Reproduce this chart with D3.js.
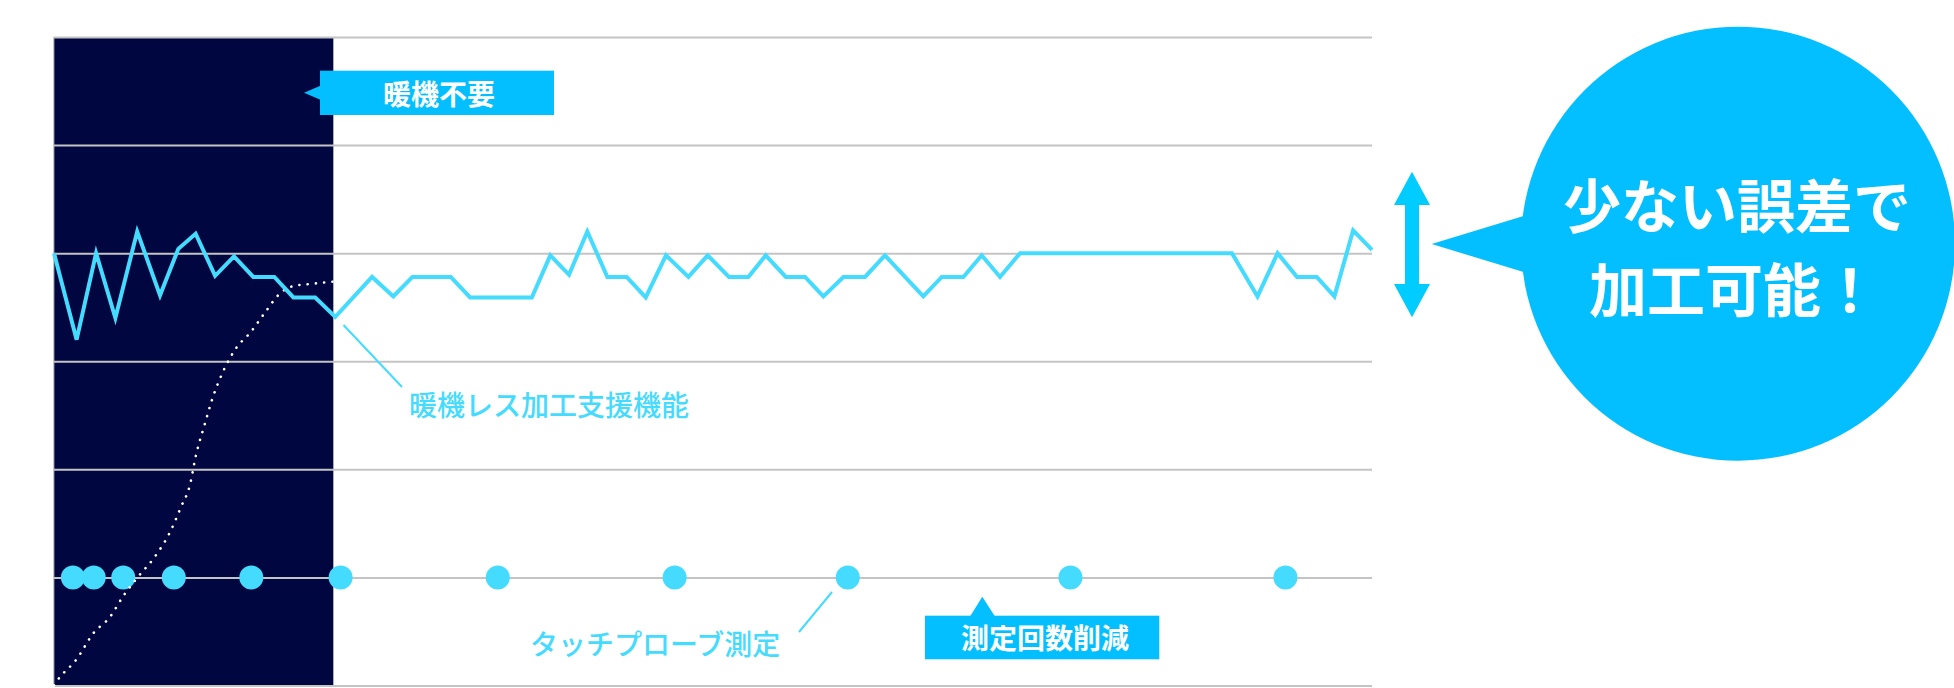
<!DOCTYPE html>
<html><head><meta charset="utf-8">
<script src="https://cdn.jsdelivr.net/npm/d3@7"></script>
<style>html,body{margin:0;padding:0;background:#fff}svg{display:block}</style>
</head><body>
<svg id="chart" width="1954" height="688"></svg>
<script>
// ---- data (time units, value units) ----
const gridTicks = [0, 5, 10, 15, 20, 25, 30];
const warmupEnd = 14.2;

const lineTime = [0, 1.15, 2.14, 3.12, 4.23, 5.39, 6.32, 7.2, 8.19, 9.15, 10.13, 11.2, 12.17, 13.28, 14.3,
  16.17, 17.25, 18.22, 20.17, 21.15, 24.29, 25.23, 26.18, 27.11, 28.13, 29.11, 30.08, 31.11, 32.25,
  33.23, 34.31, 35.3, 36.18, 37.2, 38.18, 39.11, 40.13, 41.23, 42.24, 44.19, 45.13, 46.23, 47.16,
  48.09, 49.11, 59.88, 61.18, 62.2, 63.19, 64.19, 65.09, 66.04, 67.0];
const lineValue = [20, 16, 20, 17, 21, 18.05, 20.2, 20.9, 18.95, 19.85, 18.9, 18.9, 17.95, 17.95, 17.05,
  18.9, 18, 18.9, 18.9, 17.95, 17.95, 19.9, 19, 21, 18.9, 18.9, 17.95, 19.9, 18.9,
  19.9, 18.9, 18.9, 19.9, 18.9, 18.9, 18, 18.9, 18.9, 19.9, 18, 18.9, 18.9, 19.9,
  18.9, 20, 20, 18, 20, 18.9, 18.9, 18, 21.05, 20.15];

const warmTime = [0, 0.09, 1.16, 2.02, 2.8, 3.56, 4.27, 5.08, 5.95, 6.46, 6.9, 7.22, 7.68, 8.03, 8.59,
  9.22, 10.0, 10.73, 11.49, 12.17, 12.98, 14.17];
const warmValue = [0, 0.13, 1.23, 2.44, 3.12, 4.19, 5.03, 5.9, 7.19, 8.27, 9.24, 10.66, 12.14, 13.21, 14.51,
  15.56, 16.35, 17.26, 18.14, 18.48, 18.57, 18.68];

const probeTime = [0.96, 2.02, 3.52, 6.09, 10.03, 14.57, 22.56, 31.55, 40.35, 51.67, 62.6];
const probeValue = 5;

// ---- setup ----
const svg = d3.select('#chart');
const FONT = '"Noto Sans CJK JP", "Noto Sans", sans-serif';
const x = d3.scaleLinear().domain([0, 67]).range([54, 1372]);
const y = d3.scaleLinear().domain([0, 30]).range([685.5, 37]);

const NAVY = '#00063f', LINE = '#44dbff', BLUE = '#04bfff', ARROW = '#00ccff', GRID = '#c4c4c4';

// warm-up zone
svg.append('rect')
  .attr('x', x(0)).attr('y', y(30))
  .attr('width', x(warmupEnd) - x(0)).attr('height', y(0) - y(30))
  .attr('fill', NAVY);
svg.append('line')
  .attr('x1', x(0)).attr('x2', x(0)).attr('y1', y(30)).attr('y2', y(0))
  .attr('stroke', '#8a8a9a').attr('stroke-width', 1);

// gridlines via axis
const yAxis = d3.axisLeft(y).tickValues(gridTicks).tickSize(-(x(67) - x(0))).tickFormat('');
const gAxis = svg.append('g').attr('transform', `translate(${x(0)},0)`).call(yAxis);
gAxis.select('.domain').remove();
gAxis.selectAll('.tick line').attr('stroke', GRID).attr('stroke-width', 2);

// probe dots
svg.append('g').selectAll('circle').data(probeTime).join('circle')
  .attr('cx', d => x(d)).attr('cy', y(probeValue)).attr('r', 12)
  .attr('fill', LINE);

// dotted warm-up curve
const warmData = warmTime.map((t, i) => [t, warmValue[i]]);
svg.append('path')
  .datum(warmData)
  .attr('d', d3.line().x(d => x(d[0])).y(d => y(d[1])).curve(d3.curveMonotoneX))
  .attr('fill', 'none').attr('stroke', '#ffffff').attr('stroke-width', 2.6)
  .attr('stroke-linecap', 'round').attr('stroke-dasharray', '0.1 8.2');

// main line
const lineData = lineTime.map((t, i) => [t, lineValue[i]]);
svg.append('path')
  .datum(lineData)
  .attr('d', d3.line().x(d => x(d[0])).y(d => y(d[1])))
  .attr('fill', 'none').attr('stroke', LINE).attr('stroke-width', 4)
  .attr('stroke-linejoin', 'miter');

// ---- annotations ----
// 暖機不要 callout
svg.append('polygon').attr('points', '304,92.7 321,85.5 321,100').attr('fill', BLUE);
svg.append('rect').attr('x', 320).attr('y', 70.7).attr('width', 234).attr('height', 44.3).attr('fill', BLUE);
svg.append('text').attr('x', 439).attr('y', 105).attr('text-anchor', 'middle')
  .attr('font-family', FONT).attr('font-weight', 700).attr('font-size', 28).attr('fill', '#fff')
  .text('暖機不要');

// 暖機レス加工支援機能 label
svg.append('line').attr('x1', 343.5).attr('y1', 325).attr('x2', 402).attr('y2', 387)
  .attr('stroke', LINE).attr('stroke-width', 2);
svg.append('text').attr('x', 409).attr('y', 415.5)
  .attr('font-family', FONT).attr('font-weight', 500).attr('font-size', 28).attr('fill', LINE)
  .text('暖機レス加工支援機能');

// タッチプローブ測定 label
svg.append('line').attr('x1', 799).attr('y1', 632).attr('x2', 832).attr('y2', 592)
  .attr('stroke', LINE).attr('stroke-width', 2);
svg.append('text').attr('x', 530).attr('y', 655)
  .attr('font-family', FONT).attr('font-weight', 500).attr('font-size', 28).attr('fill', LINE)
  .text('タッチプローブ測定');

// 測定回数削減 callout
svg.append('polygon').attr('points', '982.3,596.7 970,616.5 995,616.5').attr('fill', BLUE);
svg.append('rect').attr('x', 925).attr('y', 615.7).attr('width', 234.3).attr('height', 43.6).attr('fill', BLUE);
svg.append('text').attr('x', 1045).attr('y', 649).attr('text-anchor', 'middle')
  .attr('font-family', FONT).attr('font-weight', 700).attr('font-size', 28).attr('fill', '#fff')
  .text('測定回数削減');

// double arrow
svg.append('polygon')
  .attr('points', '1412,171.7 1430,205 1419,205 1419,284 1430,284 1412,317.3 1394,284 1405,284 1405,205 1394,205')
  .attr('fill', ARROW);

// speech bubble
svg.append('polygon').attr('points', '1431.7,244 1530,214 1530,274').attr('fill', BLUE);
svg.append('circle').attr('cx', 1738).attr('cy', 243.7).attr('r', 217).attr('fill', BLUE);
svg.append('text').attr('x', 1737).attr('y', 228).attr('text-anchor', 'middle')
  .attr('font-family', FONT).attr('font-weight', 700).attr('font-size', 58).attr('fill', '#fff')
  .text('少ない誤差で');
svg.append('text').attr('x', 1734).attr('y', 312).attr('text-anchor', 'middle')
  .attr('font-family', FONT).attr('font-weight', 700).attr('font-size', 58).attr('fill', '#fff')
  .text('加工可能！');
</script>
</body></html>
